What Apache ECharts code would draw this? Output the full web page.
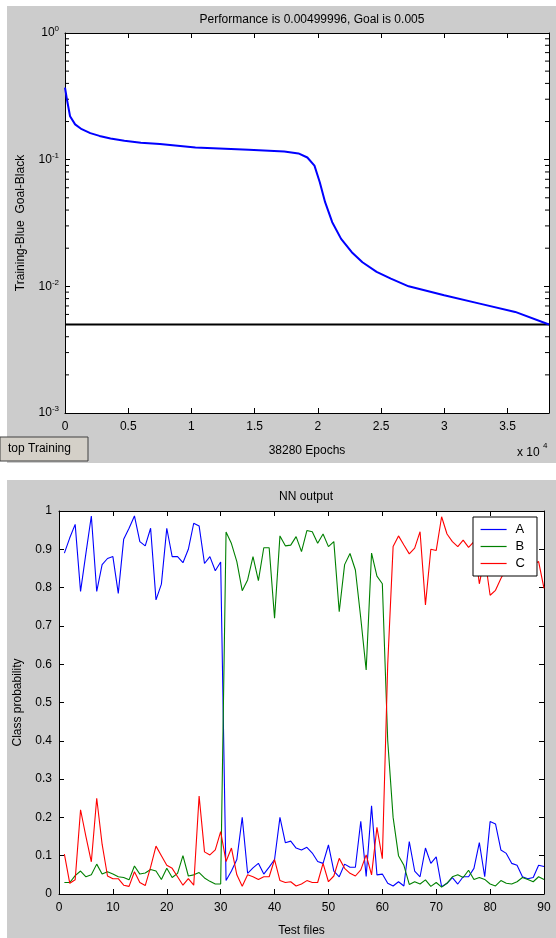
<!DOCTYPE html>
<html>
<head>
<meta charset="utf-8">
<script src="https://cdn.jsdelivr.net/npm/echarts@6/dist/echarts.min.js"></script>
<style>
html,body{margin:0;padding:0;background:#fff;}
#chart{width:556px;height:938px;}
</style>
</head>
<body>
<div id="chart"></div>
<script>
// ---- Top chart data (training performance) ----
const epochs = [0, 150, 400, 800, 1321, 2000, 2726, 3600, 4694, 6000, 7504, 10315, 14530, 17341, 18465, 19168, 19730, 20151, 20573, 21135, 21838, 22681, 23524, 24648, 25773, 27178, 29988, 32799, 35610, 38280];
const perf   = [0.37, 0.3, 0.22, 0.19, 0.174, 0.162, 0.154, 0.147, 0.141, 0.136, 0.133, 0.125, 0.12, 0.116, 0.112, 0.104, 0.0897, 0.0664, 0.0462, 0.0321, 0.0237, 0.0186, 0.0155, 0.013, 0.0115, 0.01, 0.00849, 0.0073, 0.00628, 0.005];
const goalEpochs = [0, 38280];
const goalValue = [0.005, 0.005];
const logMinorTicks = [0.002,0.003,0.004,0.005,0.006,0.007,0.008,0.009,0.02,0.03,0.04,0.05,0.06,0.07,0.08,0.09,0.2,0.3,0.4,0.5,0.6,0.7,0.8,0.9];

// ---- Bottom chart data (NN output) ----
const testFiles = Array.from({length: 90}, (_, i) => i + 1);
const seriesA = [0.89,0.93,0.965,0.79,0.89,0.987,0.79,0.86,0.876,0.881,
  0.785,0.926,0.955,0.987,0.92,0.909,0.955,0.768,0.809,0.955,
  0.881,0.881,0.865,0.90,0.968,0.961,0.863,0.881,0.844,0.867,
  0.035,0.06,0.09,0.2,0.054,0.068,0.08,0.052,0.07,0.09,
  0.2,0.134,0.138,0.12,0.115,0.122,0.107,0.085,0.08,0.128,
  0.06,0.045,0.078,0.07,0.07,0.19,0.046,0.23,0.05,0.052,
  0.028,0.021,0.032,0.021,0.137,0.06,0.045,0.12,0.08,0.097,
  0.019,0.028,0.043,0.026,0.045,0.045,0.067,0.134,0.045,0.189,
  0.183,0.115,0.106,0.08,0.075,0.045,0.04,0.043,0.075,0.072];
const seriesB = [0.03,0.03,0.048,0.06,0.045,0.05,0.078,0.052,0.058,0.052,
  0.045,0.043,0.037,0.073,0.052,0.055,0.064,0.06,0.038,0.067,
  0.043,0.054,0.1,0.047,0.05,0.056,0.042,0.033,0.026,0.026,
  0.945,0.915,0.868,0.792,0.82,0.881,0.818,0.904,0.904,0.72,
  0.935,0.909,0.911,0.933,0.894,0.949,0.946,0.916,0.94,0.907,
  0.92,0.737,0.86,0.889,0.846,0.72,0.585,0.89,0.83,0.81,
  0.4,0.2,0.1,0.075,0.025,0.032,0.026,0.037,0.02,0.03,
  0.018,0.028,0.045,0.05,0.043,0.062,0.038,0.043,0.038,0.026,
  0.021,0.035,0.028,0.026,0.032,0.043,0.038,0.032,0.045,0.038];
const seriesC = [0.104,0.028,0.037,0.22,0.15,0.084,0.25,0.13,0.047,0.04,
  0.04,0.023,0.02,0.058,0.03,0.022,0.07,0.125,0.1,0.075,
  0.067,0.045,0.023,0.04,0.023,0.256,0.11,0.102,0.115,0.163,
  0.085,0.12,0.05,0.02,0.05,0.045,0.038,0.045,0.045,0.09,
  0.035,0.03,0.032,0.021,0.026,0.035,0.03,0.03,0.08,0.032,
  0.047,0.093,0.067,0.054,0.047,0.063,0.102,0.05,0.174,0.092,
  0.6,0.907,0.935,0.911,0.888,0.903,0.946,0.755,0.9,0.897,
  0.985,0.94,0.92,0.907,0.924,0.905,0.92,0.81,0.88,0.78,
  0.793,0.824,0.85,0.88,0.9,0.87,0.92,0.86,0.868,0.798];
const seriesNames = ['A', 'B', 'C'];
const seriesColors = ['#0000ff', '#008000', '#ff0000'];

const FONT = 'Liberation Sans, Arial, sans-serif';
const TXT = '#000';
const PANEL = '#cccccc';

const pair = (xs, ys) => xs.map((x, i) => [x, ys[i]]);

const chart = echarts.init(document.getElementById('chart'), null, {renderer: 'canvas'});

const tickIn = {show: true, inside: true, length: 5, lineStyle: {color: '#000', width: 1}};
const axLine = {show: true, onZero: false, lineStyle: {color: '#000', width: 1}};
const lbl = {color: TXT, fontFamily: FONT, fontSize: 12};

const classSeries = [seriesA, seriesB, seriesC].map((vals, k) => ({
  name: seriesNames[k], type: 'line', xAxisIndex: 2, yAxisIndex: 2,
  data: pair(testFiles, vals), symbol: 'none',
  lineStyle: {color: seriesColors[k], width: 1.1},
  itemStyle: {color: seriesColors[k]}, z: 3 + k
}));

const option = {
  backgroundColor: '#fff',
  animation: false,
  textStyle: {fontFamily: FONT},
  title: [
    {text: 'Performance is 0.00499996, Goal is 0.005', left: 307, top: 9, textAlign: 'center',
     textStyle: {fontSize: 12, fontWeight: 'normal', color: TXT, fontFamily: FONT}},
    {text: 'NN output', left: 301, top: 486, textAlign: 'center',
     textStyle: {fontSize: 12, fontWeight: 'normal', color: TXT, fontFamily: FONT}}
  ],
  graphic: {elements: [
    {type: 'rect', shape: {x: 7, y: 6, width: 549, height: 457}, style: {fill: PANEL}, z: -10, silent: true},
    {type: 'rect', shape: {x: 7, y: 480, width: 549, height: 458}, style: {fill: PANEL}, z: -10, silent: true},
    // stop-training button
    {type: 'rect', shape: {x: 0, y: 437, width: 88, height: 24}, style: {fill: '#d4d0c8', stroke: '#404040', lineWidth: 1}, z: -5, silent: true},
    {type: 'text', x: 8, y: 449, style: {text: 'top Training', fill: '#000', font: '12px ' + FONT, textVerticalAlign: 'middle'}, z: 5},
    {type: 'text', x: 517, y: 453, style: {text: 'x 10', fill: TXT, font: '12px ' + FONT, textVerticalAlign: 'middle'}, z: 5},
    {type: 'text', x: 543, y: 446, style: {text: '4', fill: TXT, font: '8px ' + FONT, textVerticalAlign: 'middle'}, z: 5}
  ]},
  legend: {
    z: 20,
    data: seriesNames.map((n, k) => ({name: n, itemStyle: {color: seriesColors[k], opacity: 0},
      lineStyle: {color: seriesColors[k], width: 1.2}})),
    orient: 'vertical',
    left: 473, top: 517,
    padding: [6, 12, 6, 7],
    itemGap: 4,
    itemWidth: 26, itemHeight: 13,
    backgroundColor: '#fff',
    borderColor: '#000', borderWidth: 1,
    textStyle: {fontSize: 13, color: TXT, fontFamily: FONT, padding: [0, 0, 0, 4]}
  },
  grid: [
    {left: 65, top: 33, width: 484, height: 380, show: true, backgroundColor: '#fff', borderWidth: 0},
    {left: 59, top: 511, width: 485, height: 383, show: true, backgroundColor: '#fff', borderWidth: 0}
  ],
  xAxis: [
    {gridIndex: 0, type: 'value', min: 0, max: 38280, interval: 5000, position: 'bottom',
     axisLine: axLine, axisTick: tickIn, splitLine: {show: false},
     axisLabel: Object.assign({}, lbl, {margin: 8, showMaxLabel: false, formatter: v => String(v / 10000)}),
     name: '38280 Epochs', nameLocation: 'middle', nameGap: 32,
     nameTextStyle: {color: TXT, fontSize: 12, fontFamily: FONT}},
    {gridIndex: 0, type: 'value', min: 0, max: 38280, interval: 5000, position: 'top',
     axisLine: axLine, axisTick: tickIn, axisLabel: {show: false}, splitLine: {show: false}},
    {gridIndex: 1, type: 'value', min: 0, max: 90, interval: 10, position: 'bottom',
     axisLine: axLine, axisTick: tickIn, splitLine: {show: false},
     axisLabel: Object.assign({}, lbl, {margin: 8}),
     name: 'Test files', nameLocation: 'middle', nameGap: 31,
     nameTextStyle: {color: TXT, fontSize: 12, fontFamily: FONT}},
    {gridIndex: 1, type: 'value', min: 0, max: 90, interval: 10, position: 'top',
     axisLine: axLine, axisTick: tickIn, axisLabel: {show: false}, splitLine: {show: false}}
  ],
  yAxis: [
    {gridIndex: 0, type: 'log', logBase: 10, min: 0.001, max: 1, position: 'left',
     axisLine: axLine, axisTick: tickIn, splitLine: {show: false},
     axisLabel: {margin: 6, color: TXT, fontFamily: FONT,
       formatter: v => '{b|10}{s|' + Math.round(Math.log10(v)) + '}',
       rich: {b: {fontSize: 12, color: TXT, fontFamily: FONT},
              s: {fontSize: 8, color: TXT, fontFamily: FONT, padding: [0, 0, 8, 0]}}},
     name: 'Training-Blue  Goal-Black', nameLocation: 'middle', nameGap: 38, nameRotate: 90,
     nameTextStyle: {color: TXT, fontSize: 12, fontFamily: FONT}},
    {gridIndex: 0, type: 'log', logBase: 10, min: 0.001, max: 1, position: 'right',
     axisLine: axLine, axisTick: tickIn, axisLabel: {show: false}, splitLine: {show: false}},
    {gridIndex: 1, type: 'value', min: 0, max: 1, interval: 0.1, position: 'left',
     axisLine: axLine, axisTick: tickIn, splitLine: {show: false},
     axisLabel: Object.assign({}, lbl, {margin: 7, formatter: v => String(Math.round(v * 10) / 10)}),
     name: 'Class probability', nameLocation: 'middle', nameGap: 35,
     nameTextStyle: {color: TXT, fontSize: 12, fontFamily: FONT}},
    {gridIndex: 1, type: 'value', min: 0, max: 1, interval: 0.1, position: 'right',
     axisLine: axLine, axisTick: tickIn, axisLabel: {show: false}, splitLine: {show: false}}
  ],
  series: [
    {type: 'custom', xAxisIndex: 0, yAxisIndex: 0, silent: true, z: 3,
     data: logMinorTicks.map(v => [0, v]),
     renderItem: (params, api) => {
       const p = api.coord([0, api.value(1)]);
       const cs = params.coordSys;
       return {type: 'group', children: [
         {type: 'line', shape: {x1: cs.x, y1: p[1], x2: cs.x + 4, y2: p[1]}, style: {stroke: '#000', lineWidth: 1}},
         {type: 'line', shape: {x1: cs.x + cs.width - 4, y1: p[1], x2: cs.x + cs.width, y2: p[1]}, style: {stroke: '#000', lineWidth: 1}}
       ]};
     }},
    {name: 'Goal', type: 'line', xAxisIndex: 0, yAxisIndex: 0, data: pair(goalEpochs, goalValue),
     symbol: 'none', lineStyle: {color: '#000', width: 2}, z: 4},
    {name: 'Training', type: 'line', xAxisIndex: 0, yAxisIndex: 0, data: pair(epochs, perf),
     symbol: 'none', smooth: false, lineStyle: {color: '#0000ff', width: 2}, z: 5}
  ].concat(classSeries)
};
chart.setOption(option);
</script>
</body>
</html>
